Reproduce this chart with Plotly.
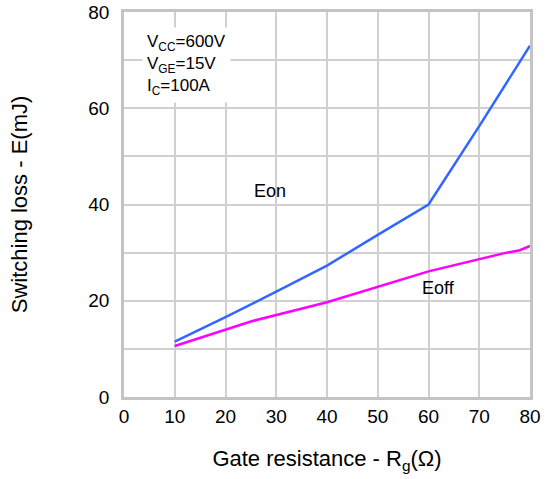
import plotly.graph_objects as go

rg = [10, 20, 30, 40, 50, 60, 70, 80]
eon = [11.5, 16.6, 21.9, 27.3, 33.7, 40.0, 56.3, 73.0]
rg_off = [10, 25, 40, 60, 75, 78, 80]
eoff = [10.6, 15.7, 19.7, 26.1, 29.9, 30.5, 31.4]

font = "Liberation Sans, Arial, sans-serif"
grid = "#D0D0D0"

fig = go.Figure()
fig.add_trace(go.Scatter(x=rg, y=eon, mode="lines", line=dict(color="#3366FF", width=2.5), showlegend=False))
fig.add_trace(go.Scatter(x=rg_off, y=eoff, mode="lines", line=dict(color="#FF00FF", width=2.5), showlegend=False))

fig.add_annotation(x=28.8, y=42.8, text="Eon", showarrow=False, font=dict(size=18, color="black", family=font))
fig.add_annotation(x=62, y=22.6, text="Eoff", showarrow=False, font=dict(size=18, color="black", family=font))
fig.add_annotation(x=3.6, y=76.8, xanchor="left", yanchor="top", align="left",
                   text="V<sub>CC</sub>=600V<br>V<sub>GE</sub>=15V<br>I<sub>C</sub>=100A",
                   showarrow=False, bgcolor="white", borderpad=4,
                   font=dict(size=17, color="black", family=font))

axis_common = dict(showgrid=True, gridcolor=grid, gridwidth=1.5, showline=True, linecolor="#C4C4C4",
                   linewidth=2.5, mirror=True, zeroline=False, ticks="", automargin=False, layer="below traces",
                   tickfont=dict(size=19, color="black", family=font))
fig.update_xaxes(range=[0, 80], tick0=0, dtick=10, title=dict(text="Gate resistance - R<sub>g</sub>(Ω)",
                 font=dict(size=22, color="black", family=font), standoff=26), **axis_common)
fig.update_yaxes(range=[0, 80], dtick=10, tickvals=[0, 10, 20, 30, 40, 50, 60, 70, 80],
                 ticktext=["0", "", "20", "", "40", "", "60", "", "80"],
                 title=dict(text="Switching loss - E(mJ)", font=dict(size=22, color="black", family=font), standoff=55),
                 ticklabelstandoff=8, **axis_common)

fig.update_layout(width=547, height=479, margin=dict(l=124, r=17, t=12, b=82), template="none",
                  plot_bgcolor="white", paper_bgcolor="white", font=dict(family=font))
fig.write_html("out.html")
